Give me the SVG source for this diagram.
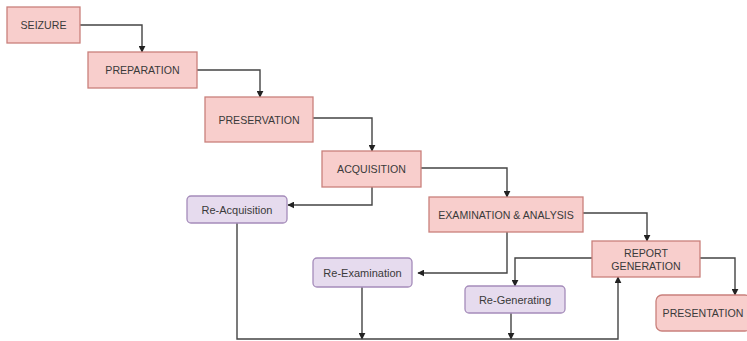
<svg xmlns="http://www.w3.org/2000/svg" width="747" height="341" viewBox="0 0 747 341">
  <defs>
    <style>
      .step rect { fill: #f8cecc; stroke: #c9807c; stroke-width: 1.3; }
      .redo rect { fill: #e6dbee; stroke: #a58cba; stroke-width: 1.3; }
      text { font-family: "Liberation Sans", Arial, sans-serif; font-size: 10.6px; fill: #3a3a3a; text-anchor: middle; dominant-baseline: central; }
      .redo text { font-size: 11px; }
      .wire { fill: none; stroke: #444; stroke-width: 1.4; marker-end: url(#tip); }
      .plain { fill: none; stroke: #444; stroke-width: 1.4; }
    </style>
    <marker id="tip" viewBox="0 0 10 10" refX="9" refY="5" markerWidth="7" markerHeight="7" markerUnits="userSpaceOnUse" orient="auto">
      <path d="M0,0 L10,5 L0,10 z" fill="#222"/>
    </marker>
  </defs>

  <rect width="747" height="341" fill="#ffffff"/>

  <!-- connectors -->
  <g id="connectors">
    <path class="wire" d="M80,25 H142 V52"/>
    <path class="wire" d="M197,70 H260 V97"/>
    <path class="wire" d="M313,118 H372 V151"/>
    <path class="wire" d="M421,168 H507 V197"/>
    <path class="wire" d="M372,187 V205 H288"/>
    <path class="wire" d="M507,232 V273 H418"/>
    <path class="wire" d="M583,213 H647 V241"/>
    <path class="wire" d="M592,258 H515 V286"/>
    <path class="wire" d="M700,258 H735 V295"/>
    <path class="wire" d="M362,287 V339"/>
    <path class="wire" d="M511,313 V339"/>
    <path class="wire" d="M237,223 V339 H618 V277"/>
  </g>

  <!-- main process steps -->
  <g id="seizure" class="step">
    <rect x="7" y="7" width="73" height="36"/>
    <text x="43.5" y="25">SEIZURE</text>
  </g>
  <g id="preparation" class="step">
    <rect x="88" y="52" width="109" height="36"/>
    <text x="142.5" y="70">PREPARATION</text>
  </g>
  <g id="preservation" class="step">
    <rect x="205" y="97" width="108" height="45"/>
    <text x="259" y="119.5">PRESERVATION</text>
  </g>
  <g id="acquisition" class="step">
    <rect x="322" y="151" width="99" height="36"/>
    <text x="371.5" y="169">ACQUISITION</text>
  </g>
  <g id="examination" class="step">
    <rect x="429" y="197" width="154" height="35"/>
    <text x="506" y="214.5">EXAMINATION &amp; ANALYSIS</text>
  </g>
  <g id="report" class="step">
    <rect x="592" y="241" width="108" height="36"/>
    <text x="646" y="252.5">REPORT</text>
    <text x="646" y="265.5">GENERATION</text>
  </g>
  <g id="presentation" class="step">
    <rect x="656" y="295" width="95" height="36" rx="6" ry="6"/>
    <text x="703" y="313">PRESENTATION</text>
  </g>

  <!-- repeat loops -->
  <g id="re-acquisition" class="redo">
    <rect x="187" y="196" width="100" height="27" rx="4" ry="4"/>
    <text x="237" y="209.5">Re-Acquisition</text>
  </g>
  <g id="re-examination" class="redo">
    <rect x="313" y="258" width="99" height="29" rx="4" ry="4"/>
    <text x="362.5" y="272.5">Re-Examination</text>
  </g>
  <g id="re-generating" class="redo">
    <rect x="465" y="286" width="100" height="27" rx="4" ry="4"/>
    <text x="515" y="299.5">Re-Generating</text>
  </g>
</svg>
